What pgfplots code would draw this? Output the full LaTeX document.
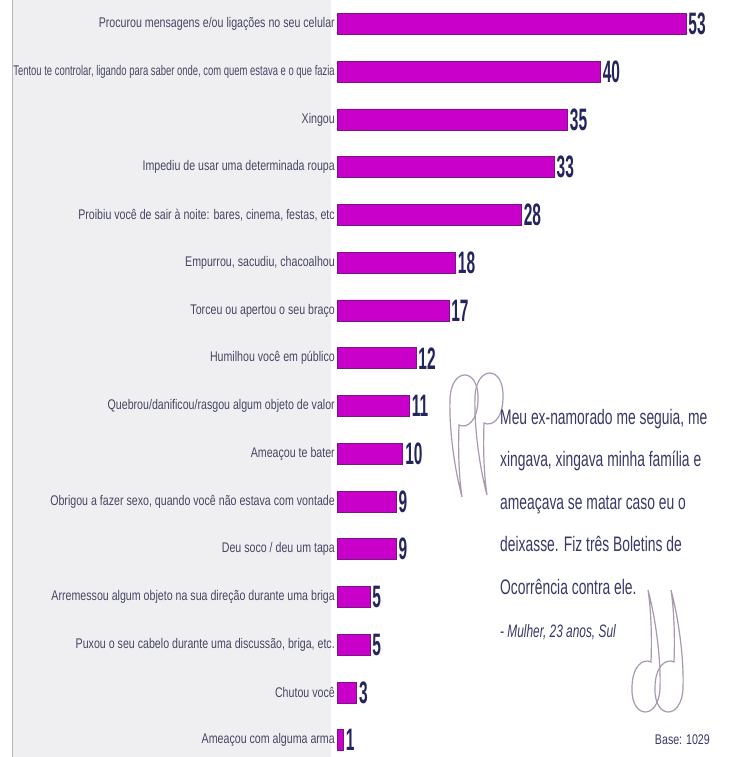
\documentclass[border=0pt]{standalone}
\usepackage{pgfplots}
\pgfplotsset{compat=1.18}
\usepackage{fontspec}
\setmainfont{Liberation Sans}
\newfontfamily\labfont{Liberation Sans}[FakeStretch=0.76]
\newfontfamily\labfontn{Liberation Sans}[FakeStretch=0.675]
\newfontfamily\numfont{Liberation Sans Bold}[FakeStretch=0.5]
\newfontfamily\quotefont{Liberation Sans}[FakeStretch=0.66]
\definecolor{barcol}{HTML}{C800CA}
\definecolor{baredge}{HTML}{7A1488}
\definecolor{panel}{HTML}{EFEFF1}
\definecolor{panelline}{HTML}{B4B4B8}
\definecolor{labcol}{HTML}{464664}
\definecolor{numcol}{HTML}{25255E}
\definecolor{quotecol}{HTML}{38386A}
\definecolor{markcol}{HTML}{A898B0}
\begin{document}
\begin{tikzpicture}[x=1bp,y=1bp]
\path[use as bounding box] (0,0) rectangle (733,757);
\fill[white] (0,0) rectangle (733,757);
\fill[panel] (12,0) rectangle (331,757);
\draw[panelline, line width=1bp] (12,0) -- (12,757);
\begin{axis}[
  at={(337bp,733bp)}, anchor=origin,
  x=6.585bp, y=47.75bp, y dir=reverse,
  xmin=0, xmax=60, ymin=-0.5, ymax=15.5,
  enlargelimits=false, clip=false,
  xbar, bar width=21bp,
  axis line style={draw=none},
  major tick length=0pt,
  xtick=\empty,
  ytick={0,...,15},
  yticklabels={
    {Procurou mensagens e/ou ligações no seu celular},
    {\labfontn Tentou te controlar, ligando para saber onde, com quem estava e o que fazia},
    {Xingou},
    {Impediu de usar uma determinada roupa},
    {Proibiu você de sair à noite: bares, cinema, festas, etc},
    {Empurrou, sacudiu, chacoalhou},
    {Torceu ou apertou o seu braço},
    {Humilhou você em público},
    {Quebrou/danificou/rasgou algum objeto de valor},
    {Ameaçou te bater},
    {Obrigou a fazer sexo, quando você não estava com vontade},
    {Deu soco / deu um tapa},
    {Arremessou algum objeto na sua direção durante uma briga},
    {Puxou o seu cabelo durante uma discussão, briga, etc.},
    {Chutou você},
    {Ameaçou com alguma arma}},
  yticklabel style={font=\labfont\fontsize{14bp}{16bp}\selectfont, text=labcol, anchor=east, inner sep=2bp},
  /pgf/number format/assume math mode=true,
  nodes near coords,
  nodes near coords style={font=\numfont\fontsize{31bp}{33bp}\selectfont, text=numcol, anchor=west, inner sep=0pt, xshift=2bp},
]
\addplot[fill=barcol, draw=baredge, line width=0.8bp] coordinates {
(53,0) (40,1) (35,2) (33,3) (28,4) (18,5) (17,6) (12,7) (11,8) (10,9) (9,10) (9,11) (5,12) (5,13) (3,14) (1,15)};
\end{axis}
% closing quote mark (tip at top, bulb at bottom)
\foreach \px/\py in {648/167, 671/167}{
  \draw[markcol, line width=1.2bp, shift={(\px,\py)}]
    (0,0) .. controls (8,-30) and (13,-70) .. (12,-98) .. controls (11,-130) and (-17,-130) .. (-16,-98) .. controls (-16,-76) and (-5,-68) .. (3,-72) .. controls (4,-45) and (3,-20) .. (0,0);
}
% opening quote mark (tip at bottom, bulb at top)
\foreach \px/\py in {462/260, 487/262}{
  \draw[markcol, line width=1.2bp, shift={(\px,\py)}, rotate=180]
    (0,0) .. controls (8,-30) and (13,-70) .. (12,-98) .. controls (11,-130) and (-17,-130) .. (-16,-98) .. controls (-16,-76) and (-5,-68) .. (3,-72) .. controls (4,-45) and (3,-20) .. (0,0);
}
\begin{scope}[every node/.style={anchor=base west, inner sep=0pt, text=quotecol, font=\quotefont\fontsize{21bp}{24bp}\selectfont}]
\node at (500,332) {Meu ex-namorado me seguia, me};
\node at (500,290) {xingava, xingava minha família e};
\node at (500,247) {ameaçava se matar caso eu o};
\node at (500,205) {deixasse. Fiz três Boletins de};
\node at (500,162) {Ocorrência contra ele.};
\node[font=\quotefont\fontsize{18bp}{20bp}\selectfont\itshape] at (500,119) {- Mulher, 23 anos, Sul};
\end{scope}
\node[anchor=base east, inner sep=0pt, text=quotecol, font=\labfont\fontsize{14bp}{16bp}\selectfont] at (710,12) {Base: 1029};
\end{tikzpicture}
\end{document}
